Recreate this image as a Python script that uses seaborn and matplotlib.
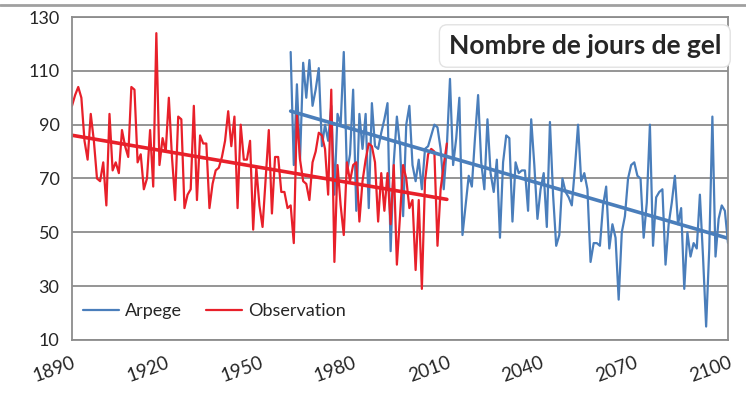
import numpy as np
import pandas as pd
import matplotlib
matplotlib.use("Agg")
import matplotlib.pyplot as plt
from matplotlib.ticker import MultipleLocator
import seaborn as sns

# nombre de jours de gel par an : observations et simulation Arpege
annees_obs = list(range(1890, 2011))
jours_obs = [
    97, 101, 104, 100, 84, 77, 94, 84, 70, 69,      # 1890
    76, 60, 94, 73, 76, 72, 88, 82, 78, 104,        # 1900
    103, 76, 79, 66, 70, 88, 67, 124, 75, 85,       # 1910
    80, 100, 78, 62, 93, 92, 59, 64, 66, 97,        # 1920
    62, 86, 83, 83, 59, 68, 73, 74, 78, 84,         # 1930
    95, 82, 93, 59, 90, 77, 77, 84, 51, 74,         # 1940
    60, 52, 70, 88, 57, 78, 78, 65, 65, 59,         # 1950
    60, 46, 94, 77, 69, 68, 62, 76, 80, 87,         # 1960
    86, 81, 64, 103, 39, 75, 60, 49, 76, 69,        # 1970
    75, 76, 54, 69, 77, 83, 82, 76, 54, 72,         # 1980
    58, 72, 53, 75, 38, 56, 75, 70, 59, 62,         # 1990
    36, 62, 29, 69, 79, 81, 80, 45, 66, 75,         # 2000
    83,                                             # 2010
]

annees_arpege = list(range(1960, 2101))
jours_arpege = [
    117, 75, 105, 77, 113, 100, 114, 97, 103, 111,  # 1960
    82, 90, 84, 97, 64, 94, 90, 117, 72, 79,        # 1970
    103, 58, 94, 81, 94, 59, 98, 82, 81, 87,        # 1980
    92, 98, 43, 76, 93, 82, 56, 90, 97, 75,         # 1990
    69, 77, 66, 81, 82, 86, 90, 89, 81, 66,         # 2000
    82, 107, 75, 85, 100, 49, 60, 71, 67, 85,       # 2010
    101, 76, 66, 92, 72, 65, 77, 48, 76, 86,        # 2020
    85, 54, 76, 72, 73, 73, 58, 92, 75, 55,         # 2030
    66, 72, 52, 91, 64, 45, 49, 70, 65, 63,         # 2040
    60, 74, 90, 69, 72, 66, 39, 46, 46, 45,         # 2050
    60, 67, 44, 53, 48, 25, 50, 56, 70, 75,         # 2060
    76, 71, 70, 48, 61, 90, 45, 63, 65, 66,         # 2070
    38, 53, 61, 71, 53, 59, 29, 50, 41, 46,         # 2080
    44, 64, 41, 15, 44, 93, 41, 55, 60, 58,         # 2090
    46,                                             # 2100
]

series = ["Arpege", "Observation"]
couleurs = {"Arpege": "#4a7ebb", "Observation": "#e8202a"}
titre = "Nombre de jours de gel"

# tableau long pour seaborn
df = pd.concat([
    pd.DataFrame({"annee": annees_arpege, "jours": jours_arpege, "serie": "Arpege"}),
    pd.DataFrame({"annee": annees_obs, "jours": jours_obs, "serie": "Observation"}),
], ignore_index=True)

sns.set_style("white")
plt.rcParams["font.family"] = ["Lato", "DejaVu Sans"]

fig = plt.figure(figsize=(7.46, 4.0), dpi=100)
ax = fig.add_axes([72 / 746, 1 - 340 / 400, 656 / 746, 323 / 400])

sns.lineplot(data=df, x="annee", y="jours", hue="serie", hue_order=series,
             palette=couleurs, linewidth=1.6, ax=ax)

# droites de tendance (regression lineaire)
for nom in series:
    sous = df[df["serie"] == nom]
    sns.regplot(data=sous, x="annee", y="jours", scatter=False, ci=None,
                color=couleurs[nom], line_kws={"linewidth": 2.6}, ax=ax)

ax.set_xlim(1890, 2100)
ax.set_ylim(10, 130)
ax.set_xticks(range(1890, 2101, 30))
ax.xaxis.set_minor_locator(MultipleLocator(1))
ax.set_yticks(range(10, 131, 20))
ax.set_xlabel("")
ax.set_ylabel("")

gris = "#8c8c8c"
ax.yaxis.grid(True, color=gris, linewidth=1.3)
ax.set_axisbelow(True)
for s in ax.spines.values():
    s.set_color(gris)
    s.set_linewidth(1.3)

ax.tick_params(axis="x", which="both", direction="out", length=6, width=0.8,
               color=gris, labelsize=13.5, pad=4)
ax.tick_params(axis="y", length=0, labelsize=13, pad=9)
for lab in ax.get_xticklabels():
    lab.set_rotation(20)
    lab.set_ha("right")
    lab.set_va("top")
    lab.set_rotation_mode("anchor")

# legende sans cadre en bas a gauche
handles, labels = ax.get_legend_handles_labels()
ax.legend(handles[:2], labels[:2], loc="center left", bbox_to_anchor=(-0.008, 0.09),
          ncol=2, frameon=False, fontsize=13, handlelength=2.0,
          columnspacing=1.3, handletextpad=0.35)

# titre dans un cadre en haut a droite
fig.text(721 / 746, 1 - 46 / 400, titre, ha="right", va="center",
         fontsize=19, fontweight="bold",
         bbox=dict(boxstyle="round,pad=0.35,rounding_size=0.3", fc="white",
                   ec="#e2e2e2", lw=1.0))

# bordure de la zone graphique
fig.add_artist(plt.Line2D([0, 1], [1 - 5 / 400, 1 - 5 / 400], color="#a0a0a0", lw=2))

fig.savefig("out.png", dpi=100)
